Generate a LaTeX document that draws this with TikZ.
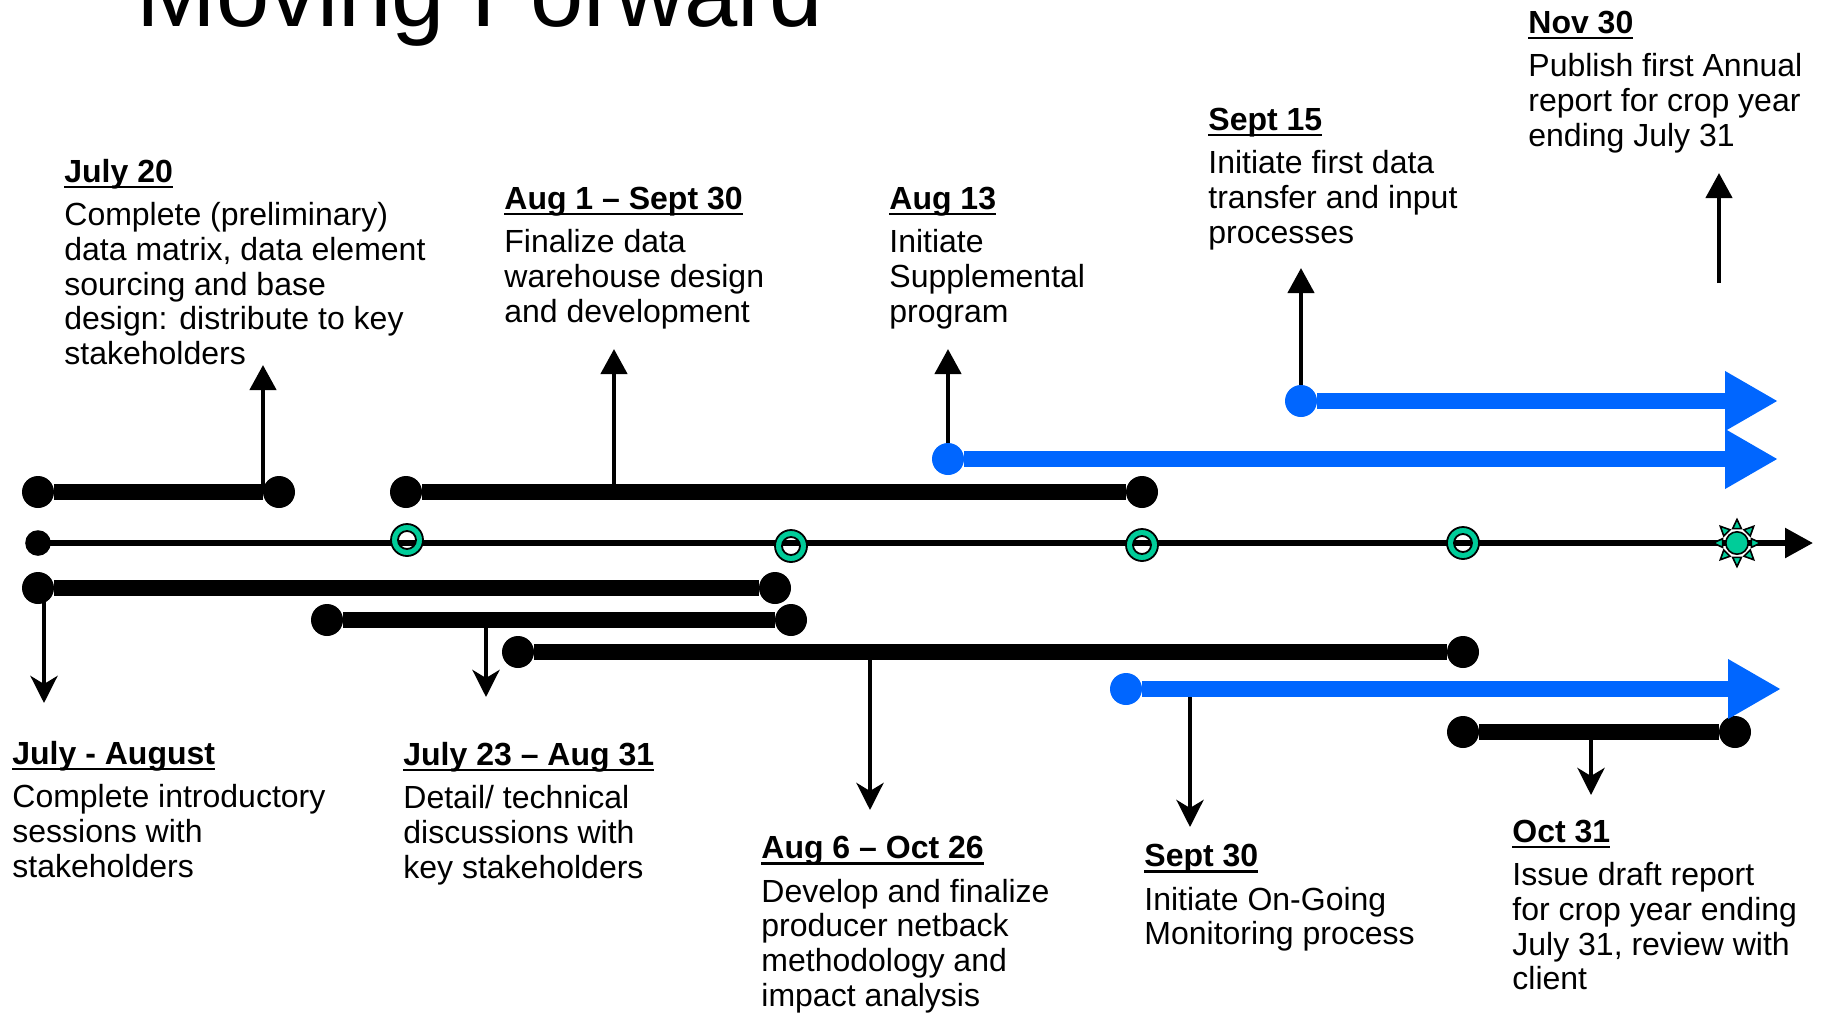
\documentclass[tikz,border=0pt]{standalone}
\usepackage{fontspec}
\setmainfont{Liberation Sans}
\usetikzlibrary{arrows.meta}
\definecolor{tlgreen}{RGB}{0,204,153}
\definecolor{tlblue}{RGB}{0,102,255}
% underlined bold date line
\newcommand{\dateline}[1]{\setbox0=\hbox{\bfseries #1}\rlap{\rule[-3pt]{\wd0}{1.2pt}}\box0}

\begin{document}
\begin{tikzpicture}[x=0.5pt, y=-0.5pt,
    enddot/.style={circle, fill=black, inner sep=0pt, minimum size=16pt},
    bluedot/.style={circle, fill=tlblue, inner sep=0pt, minimum size=16pt},
    phasebar/.style={line width=8pt, black},
    bluebar/.style={line width=8pt, tlblue, -{Triangle[length=26.5pt, width=28pt]}},
    uparrow/.style={line width=2.2pt, -{Triangle[length=12.5pt, width=13pt]}},
    downarrow/.style={line width=2.2pt, -{Stealth[length=13.5pt, width=13.5pt, inset=4pt]}},
    ring/.style={fill=tlgreen, draw=black, line width=0.9pt, even odd rule},
    note/.style={anchor=north west, inner sep=0pt, align=left, font=\fontsize{16pt}{17.35pt}\selectfont}]
    \useasboundingbox (0,0) rectangle (1822,1013);

    % 1. Title (cut at the top edge)
    \node[anchor=base west, inner sep=0pt, font=\fontsize{47.9pt}{50pt}\selectfont] (title) at (136,26) {Moving Forward};

    % 2. Time axis with milestones
    \node[circle, fill=black, inner sep=0pt, minimum size=12.8pt] (t0) at (38,543) {};
    \coordinate (t1) at (1813,543);
    \draw[line width=2.8pt, -{Triangle[length=14pt, width=14.5pt]}] (t0.center) -- (t1);
    \filldraw[ring] (407,540) circle (8pt) circle (4.5pt);
    \filldraw[ring] (791,546) circle (8pt) circle (4.5pt);
    \filldraw[ring] (1142,545) circle (8pt) circle (4.5pt);
    \filldraw[ring] (1463,543) circle (8pt) circle (4.5pt);
    % sun at the end
    \begin{scope}[shift={(1737,543)}]
        \foreach \a in {0,45,...,315}
            \filldraw[fill=tlgreen, draw=black, line width=0.8pt] (\a:11.8pt) -- (\a+17:7.5pt) -- (\a-17:7.5pt) -- cycle;
        \filldraw[fill=tlgreen, draw=black, line width=0.8pt] (0,0) circle (5.6pt);
    \end{scope}

    % 3. Arrows to the notes
    \coordinate (u1a) at (263,492);   \coordinate (u1b) at (263,365);
    \coordinate (u2a) at (614,492);   \coordinate (u2b) at (614,349);
    \coordinate (u3a) at (948,459);   \coordinate (u3b) at (948,349);
    \coordinate (u4a) at (1301,401);  \coordinate (u4b) at (1301,268);
    \coordinate (u5a) at (1719,283);  \coordinate (u5b) at (1719,173);
    \draw[uparrow] (u1a) -- (u1b);
    \draw[uparrow] (u2a) -- (u2b);
    \draw[uparrow] (u3a) -- (u3b);
    \draw[uparrow] (u4a) -- (u4b);
    \draw[uparrow] (u5a) -- (u5b);

    \coordinate (d1a) at (44,588);    \coordinate (d1b) at (44,703);
    \coordinate (d2a) at (486,620);   \coordinate (d2b) at (486,697);
    \coordinate (d3a) at (870,652);   \coordinate (d3b) at (870,810);
    \coordinate (d4a) at (1190,689);  \coordinate (d4b) at (1190,827);
    \coordinate (d5a) at (1591,732);  \coordinate (d5b) at (1591,795);
    \draw[downarrow] (d1a) -- (d1b);
    \draw[downarrow] (d2a) -- (d2b);
    \draw[downarrow] (d3a) -- (d3b);
    \draw[downarrow] (d4a) -- (d4b);
    \draw[downarrow] (d5a) -- (d5b);

    % 4. Black phase bars
    \node[enddot] (a1) at (38,492) {};    \node[enddot] (a2) at (279,492) {};
    \node[enddot] (b1) at (406,492) {};   \node[enddot] (b2) at (1142,492) {};
    \node[enddot] (c1) at (38,588) {};    \node[enddot] (c2) at (775,588) {};
    \node[enddot] (e1) at (327,620) {};   \node[enddot] (e2) at (791,620) {};
    \node[enddot] (f1) at (518,652) {};   \node[enddot] (f2) at (1463,652) {};
    \node[enddot] (g1) at (1463,732) {};  \node[enddot] (g2) at (1735,732) {};
    \draw[phasebar] (a1) -- (a2);
    \draw[phasebar] (b1) -- (b2);
    \draw[phasebar] (c1) -- (c2);
    \draw[phasebar] (e1) -- (e2);
    \draw[phasebar] (f1) -- (f2);
    \draw[phasebar] (g1) -- (g2);

    % 5. Blue on-going arrows
    \node[bluedot] (s1) at (948,459) {};   \coordinate (s1e) at (1778,459);
    \node[bluedot] (s2) at (1301,401) {};  \coordinate (s2e) at (1778,401);
    \node[bluedot] (s3) at (1126,689) {};  \coordinate (s3e) at (1781,689);
    \draw[bluebar] (s1) -- (s1e);
    \draw[bluebar] (s2) -- (s2e);
    \draw[bluebar] (s3) -- (s3e);

    % 6. Notes above the axis
    \node[note] (n1) at (64,158.7) {\dateline{July 20}\\[4.4pt]Complete (preliminary)\\data matrix, data element\\sourcing and base\\design: distribute to key\\stakeholders};
    \node[note] (n2) at (504,186.7) {\dateline{Aug 1 -- Sept 30}\\[4.4pt]Finalize data\\warehouse design\\and development};
    \node[note] (n3) at (889,186.7) {\dateline{Aug 13}\\[4.4pt]Initiate\\Supplemental\\program};
    \node[note] (n4) at (1208,107.7) {\dateline{Sept 15}\\[4.4pt]Initiate first data\\transfer and input\\processes};
    \node[note] (n5) at (1528,10.7) {\dateline{Nov 30}\\[4.4pt]Publish first Annual\\report for crop year\\ending July 31};

    % 7. Notes below the axis
    \node[note] (n6) at (12,740.7) {\dateline{July - August}\\[4.4pt]Complete introductory\\sessions with\\stakeholders};
    \node[note] (n7) at (403,741.7) {\dateline{July 23 -- Aug 31}\\[4.4pt]Detail/ technical\\discussions with\\key stakeholders};
    \node[note] (n8) at (761,836) {\dateline{Aug 6 -- Oct 26}\\[4.4pt]Develop and finalize\\producer netback\\methodology and\\impact analysis};
    \node[note] (n9) at (1144,844) {\dateline{Sept 30}\\[4.4pt]Initiate On-Going\\Monitoring process};
    \node[note] (n10) at (1512,819.5) {\dateline{Oct 31}\\[4.4pt]Issue draft report\\for crop year ending\\July 31, review with\\client};

\end{tikzpicture}
\end{document}
